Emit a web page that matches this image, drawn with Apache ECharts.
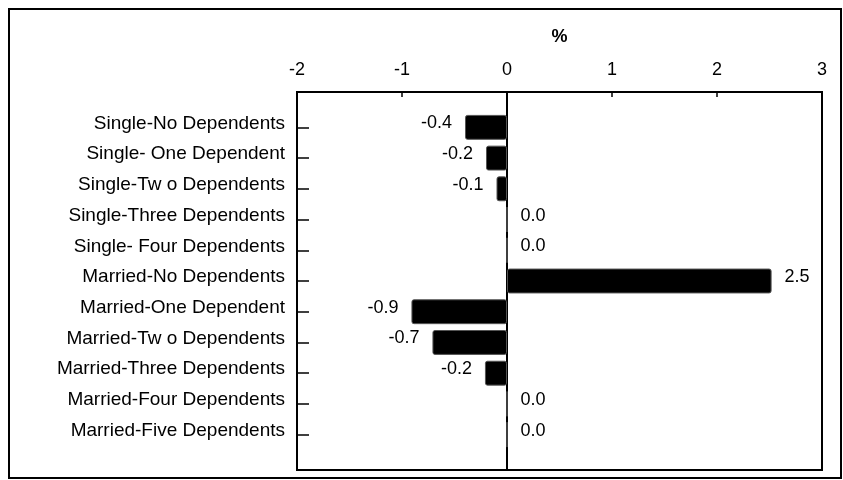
<!DOCTYPE html>
<html>
<head>
<meta charset="utf-8">
<script src="https://cdn.jsdelivr.net/npm/echarts@6/dist/echarts.min.js"></script>
<style>
html,body{margin:0;padding:0;background:#fff;}
#chart{width:843px;height:480px;}
</style>
</head>
<body>
<div id="chart"></div>
<script>
const categories = [
  'Single-No Dependents',
  'Single- One Dependent',
  'Single-Tw o Dependents',
  'Single-Three Dependents',
  'Single- Four Dependents',
  'Married-No Dependents',
  'Married-One Dependent',
  'Married-Tw o Dependents',
  'Married-Three Dependents',
  'Married-Four Dependents',
  'Married-Five Dependents'
];
const values = [-0.40, -0.20, -0.10, 0.0, 0.0, 2.52, -0.91, -0.71, -0.21, 0.0, 0.0];
const xMin = -2, xMax = 3, xStep = 1;
const axisName = '%';

const font = '"Liberation Sans", Arial, sans-serif';
const chart = echarts.init(document.getElementById('chart'), null, {renderer: 'canvas'});

chart.setOption({
  animation: false,
  backgroundColor: '#fff',
  graphic: [{
    type: 'rect',
    shape: {x: 9, y: 9, width: 832, height: 469},
    style: {fill: 'none', stroke: '#000', lineWidth: 2},
    silent: true
  }],
  grid: [
    {left: 297, right: 21, top: 92, bottom: 10, show: true, borderColor: '#000', borderWidth: 2, backgroundColor: 'transparent'},
    {left: 297, right: 21, top: 112, bottom: 30}
  ],
  xAxis: [
    {
      gridIndex: 0, type: 'value', position: 'top', min: xMin, max: xMax, interval: xStep,
      name: axisName, nameLocation: 'middle', nameGap: 46,
      nameTextStyle: {fontFamily: font, fontSize: 18, color: '#000', fontWeight: 'bold'},
      axisLine: {show: false, onZero: false},
      axisTick: {show: true, inside: true, length: 5, lineStyle: {color: '#000', width: 1.5}},
      axisLabel: {fontFamily: font, fontSize: 18, color: '#000', margin: 13},
      splitLine: {show: false}
    },
    {
      gridIndex: 1, type: 'value', min: xMin, max: xMax, interval: xStep, show: false
    }
  ],
  yAxis: [
    {
      gridIndex: 0, type: 'value', min: 0, max: 1,
      axisLine: {show: true, onZero: true, lineStyle: {color: '#000', width: 2}},
      axisTick: {show: false}, axisLabel: {show: false}, splitLine: {show: false}
    },
    {
      gridIndex: 1, type: 'category', data: categories, inverse: true,
      axisLine: {show: false, onZero: false},
      axisTick: {show: true, inside: true, length: 12, alignWithLabel: true, lineStyle: {color: '#000', width: 1.5}},
      axisLabel: {fontFamily: font, fontSize: 19, color: '#000', margin: 12,
                  verticalAlign: 'bottom', lineHeight: 8},
      splitLine: {show: false}
    }
  ],
  series: [{
    type: 'bar',
    xAxisIndex: 1, yAxisIndex: 1,
    data: values.map(v => ({value: v, label: {position: v < 0 ? 'left' : 'right'}})),
    barCategoryGap: '19%',
    itemStyle: {color: '#000', borderColor: '#555', borderWidth: 1, borderRadius: 2},
    label: {
      show: true,
      fontFamily: font, fontSize: 18, color: '#000',
      offset: [0, -4],
      distance: 13,
      formatter: p => p.value.toFixed(1)
    }
  }]
});
</script>
</body>
</html>
